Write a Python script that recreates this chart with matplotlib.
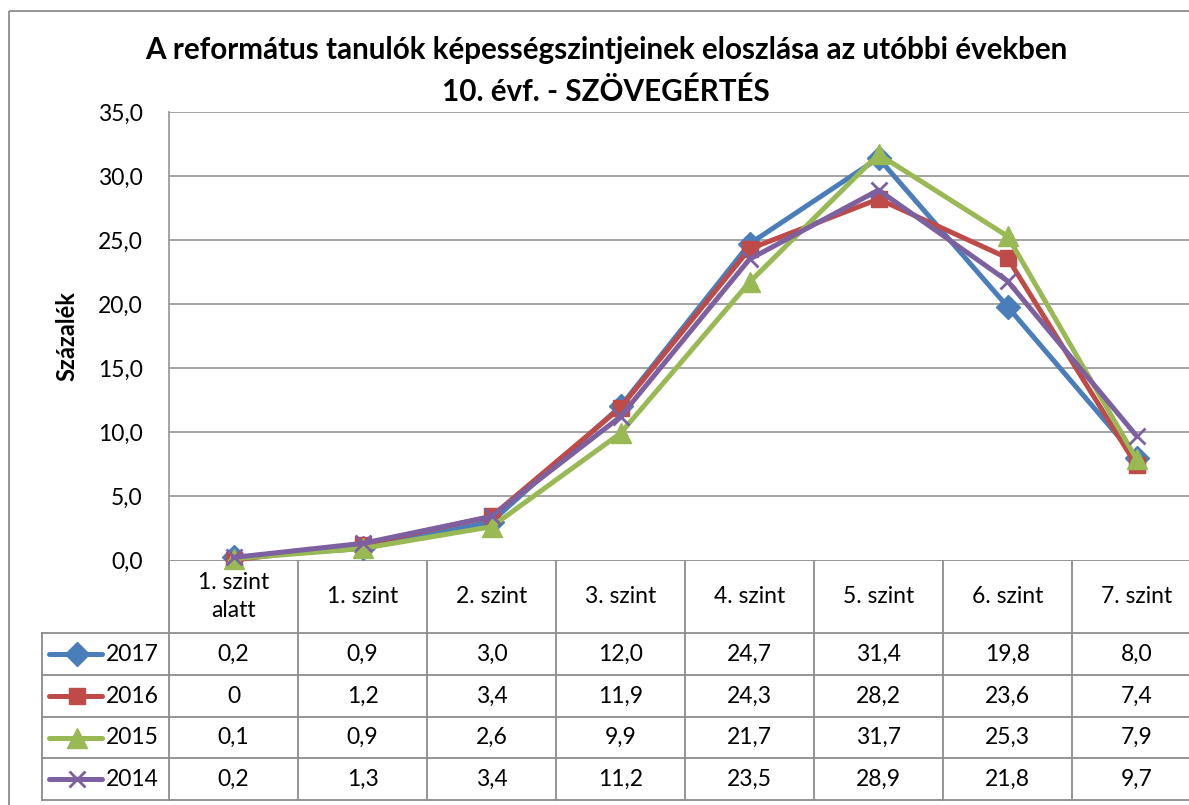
import numpy as np
import matplotlib
matplotlib.use('Agg')
import matplotlib.pyplot as plt
from matplotlib.lines import Line2D
from matplotlib.patches import Rectangle

# adatok
kategoriak = ['1. szint\nalatt', '1. szint', '2. szint', '3. szint',
              '4. szint', '5. szint', '6. szint', '7. szint']
evek = ['2017', '2016', '2015', '2014']
ev_2017 = [0.2, 0.9, 3.0, 12.0, 24.7, 31.4, 19.8, 8.0]
ev_2016 = [0.0, 1.2, 3.4, 11.9, 24.3, 28.2, 23.6, 7.4]
ev_2015 = [0.1, 0.9, 2.6, 9.9, 21.7, 31.7, 25.3, 7.9]
ev_2014 = [0.2, 1.3, 3.4, 11.2, 23.5, 28.9, 21.8, 9.7]
y_ticks = [0, 5, 10, 15, 20, 25, 30, 35]

sorozatok = [ev_2017, ev_2016, ev_2015, ev_2014]
szinek = ['#4A7EBB', '#BE4B48', '#98B954', '#7D60A0']
markerek = [('D', 12), ('s', 12), ('^', 14), ('x', 12)]

plt.rcParams['font.family'] = ['Lato', 'DejaVu Sans']

W, H = 1189, 805
fig = plt.figure(figsize=(W / 100, H / 100), dpi=100)
fig.patch.set_facecolor('white')

# pixel-koordinátás réteg a kerethez és a táblázathoz
bg = fig.add_axes([0, 0, 1, 1])
bg.set_xlim(0, W)
bg.set_ylim(H, 0)
bg.axis('off')

PL, PR, PT, PB = 169, 1201, 112, 560
ax = fig.add_axes([PL / W, 1 - PB / H, (PR - PL) / W, (PB - PT) / H])
ax.set_xlim(0, len(kategoriak))
ax.set_ylim(0, 35)
ax.set_yticks(y_ticks)
ax.set_yticklabels([f'{t:.1f}'.replace('.', ',') for t in y_ticks], fontsize=16.5)
ax.tick_params(axis='y', length=0, pad=19, colors='#000000')
ax.set_xticks([])
for t in y_ticks[1:]:
    ax.axhline(t, color='#9C9C9C', lw=1.3, zorder=1)
for s in ['top', 'right', 'bottom']:
    ax.spines[s].set_visible(False)
ax.spines['left'].set_color('#9C9C9C')
ax.spines['left'].set_linewidth(1.3)

x = np.arange(len(kategoriak)) + 0.5
for vals, c, (m, ms) in zip(sorozatok, szinek, markerek):
    ax.plot(x, vals, color=c, lw=3.6, marker=m, markersize=ms,
            markeredgewidth=2 if m == 'x' else 1, markeredgecolor=c,
            markerfacecolor=c, zorder=3, clip_on=False,
            solid_joinstyle='round', solid_capstyle='round')

ax.set_ylabel('Százalék', fontsize=17, fontweight='bold', labelpad=14)

fig.text(606 / W, 1 - 50 / H,
         'A református tanulók képességszintjeinek eloszlása az utóbbi években',
         ha='center', va='center', fontsize=21.3, fontweight='bold')
fig.text(606 / W, 1 - 92 / H, '10. évf. - SZÖVEGÉRTÉS',
         ha='center', va='center', fontsize=21.3, fontweight='bold')

# külső keret
bg.add_patch(Rectangle((9, 11), 1300, 900, fill=False, ec='#8C8C8C', lw=1.3))

# táblázat
grid_c = '#8C8C8C'
col_w = (PR - PL) / len(kategoriak)
TL = 42
row_y = [633, 675, 717, 758, 800]
for i in range(len(kategoriak) + 1):
    xx = PL + i * col_w
    bg.plot([xx, xx], [PB, row_y[-1]], color=grid_c, lw=1.3)
bg.plot([PL, PR], [PB, PB], color=grid_c, lw=1.3)
bg.plot([TL, TL], [row_y[0], row_y[-1]], color=grid_c, lw=1.3)
for yy in row_y:
    bg.plot([TL, PR], [yy, yy], color=grid_c, lw=1.3)

for i, k in enumerate(kategoriak):
    bg.text(PL + (i + 0.5) * col_w, (PB + row_y[0]) / 2, k, ha='center',
            va='center', fontsize=16.5, linespacing=1.4)

for r, (vals, c, (m, ms), ev) in enumerate(zip(sorozatok, szinek, markerek, evek)):
    yc = (row_y[r] + row_y[r + 1]) / 2
    bg.add_line(Line2D([49, 102], [yc, yc], color=c, lw=3.6,
                       solid_capstyle='round'))
    bg.plot([77], [yc], marker=m, markersize=ms, color=c,
            markeredgewidth=2 if m == 'x' else 1)
    bg.text(106, yc, ev, ha='left', va='center', fontsize=16.5)
    for i, v in enumerate(vals):
        lab = '0' if v == 0 else f'{v:.1f}'.replace('.', ',')
        bg.text(PL + (i + 0.5) * col_w, yc, lab, ha='center', va='center',
                fontsize=16.5)

fig.savefig('out.png', dpi=100)
